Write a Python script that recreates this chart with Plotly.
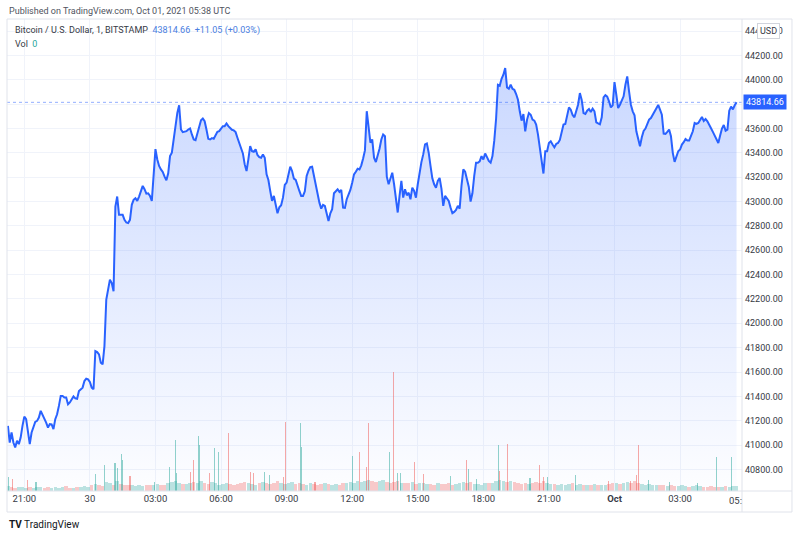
import pandas as pd
import plotly.graph_objects as go

# BTC/USD 1-min chart (Bitstamp), read every 5 minutes from 20:15 Sep 29
start_time = "2021-09-29 20:15"
price = [
    41158, 41021, 41103, 41021, 40981, 41035, 41008, 41062, 41158, 41234,
    41213, 41090, 41008, 41103, 41144, 41191, 41199, 41226, 41281, 41253,
    41226, 41185, 41144, 41172, 41170, 41131, 41213, 41253, 41322, 41404,
    41404, 41390, 41390, 41335, 41350, 41376, 41400, 41384, 41380, 41444,
    41458, 41472, 41526, 41545, 41540, 41518, 41472, 41458, 41772, 41764,
    41745, 41676, 41663, 41813, 42195, 42263, 42359, 42331, 42263, 42959,
    43041, 42891, 42891, 42891, 42850, 42828, 42823, 42850, 42973, 43014,
    43027, 43005, 43041, 43087, 43128, 43101, 43065, 43068, 43046, 43005,
    43182, 43430, 43346, 43292, 43264, 43243, 43204, 43174, 43232, 43373,
    43401, 43510, 43619, 43728, 43790, 43592, 43570, 43575, 43578, 43592,
    43600, 43551, 43510, 43504, 43559, 43605, 43668, 43682, 43660, 43592,
    43515, 43510, 43521, 43515, 43543, 43573, 43578, 43597, 43619, 43619,
    43641, 43619, 43605, 43589, 43584, 43570, 43524, 43477, 43442, 43395,
    43305, 43251, 43346, 43455, 43414, 43409, 43428, 43382, 43365, 43360,
    43387, 43360, 43223, 43177, 43087, 43005, 43046, 42978, 42904, 42953,
    42970, 43032, 43136, 43155, 43237, 43286, 43251, 43188, 43177, 43122,
    43087, 43046, 43046, 43084, 43210, 43253, 43283, 43286, 43210, 43142,
    43073, 42991, 42942, 42972, 42964, 42910, 42841, 42904, 42937, 43068,
    43087, 43101, 43079, 43095, 42950, 42948, 43019, 43051, 43095, 43155,
    43223, 43245, 43270, 43264, 43297, 43354, 43420, 43742, 43580, 43483,
    43510, 43360, 43324, 43373, 43434, 43510, 43551, 43537, 43204, 43142,
    43196, 43237, 43142, 43005, 42910, 43046, 43169, 43032, 43101, 43051,
    43073, 43019, 43114, 43087, 43032, 43142, 43251, 43324, 43387, 43469,
    43477, 43401, 43292, 43191, 43142, 43114, 43169, 43193, 43106, 42964,
    43046, 43030, 43005, 42950, 42904, 42915, 42931, 42964, 42942, 43128,
    43264, 43245, 43177, 43122, 43000, 43068, 43210, 43319, 43319, 43330,
    43373, 43346, 43395, 43365, 43333, 43319, 43373, 43500, 43680, 43959,
    43951, 44008, 44041, 44096, 43937, 43926, 43959, 43926, 43918, 43883,
    43836, 43741, 43664, 43719, 43577, 43673, 43727, 43713, 43673, 43664,
    43632, 43550, 43449, 43345, 43230, 43413, 43413, 43481, 43495, 43468,
    43446, 43473, 43481, 43506, 43563, 43632, 43637, 43700, 43773, 43754,
    43711, 43692, 43746, 43795, 43891, 43834, 43727, 43719, 43746, 43760,
    43735, 43763, 43741, 43651, 43642, 43634, 43692, 43855, 43874, 43861,
    43823, 43773, 43790, 43980, 43877, 43768, 43795, 43823, 43864, 43959,
    44027, 43904, 43795, 43741, 43708, 43577, 43512, 43454, 43528, 43580,
    43599, 43632, 43673, 43686, 43713, 43738, 43763, 43793, 43754, 43713,
    43558, 43555, 43572, 43591, 43536, 43400, 43326, 43378, 43413, 43427,
    43468, 43487, 43514, 43501, 43501, 43539, 43577, 43645, 43637, 43645,
    43673, 43694, 43662, 43678, 43659, 43623, 43602, 43572, 43542, 43512,
    43481, 43542, 43599, 43629, 43582, 43591, 43746, 43779, 43757, 43790,
    43814.66,
]

# background volume per 10-min slot (BTC)
vol_base = [
    1.2, 1.0, 0.8, 1.1, 0.9, 0.7, 1.0, 0.8, 0.9, 1.1,
    0.8, 0.9, 0.7, 1.0, 0.8, 0.9, 1.2, 0.8, 0.7, 0.9,
    1.0, 1.3, 1.1, 1.4, 1.8, 1.5, 1.3, 2.2, 1.9, 1.6,
    2.4, 1.8, 1.5, 1.4, 1.6, 1.3, 1.5, 1.2, 1.4, 1.6,
    1.5, 1.8, 1.4, 1.6, 1.9, 2.2, 2.5, 2.0, 1.7, 1.8,
    2.1, 2.3, 1.9, 2.4, 2.0, 1.8, 2.2, 1.9, 1.6, 1.8,
    2.0, 1.7, 1.5, 1.8, 2.0, 2.3, 2.1, 1.8, 1.6, 1.9,
    2.2, 2.0, 1.8, 2.1, 2.4, 2.0, 1.7, 1.9, 2.3, 1.8,
    2.0, 1.8, 1.6, 1.9, 1.7, 1.5, 1.8, 2.0, 1.7, 1.6,
    1.8, 1.6, 1.9, 2.1, 2.3, 2.0, 2.4, 2.2, 2.6, 2.8,
    2.5, 2.2, 2.4, 2.7, 2.3, 2.0, 2.2, 2.5, 1.9, 2.1,
    2.0, 2.3, 1.8, 1.9, 2.1, 1.7, 1.8, 1.6, 2.0, 1.7,
    1.8, 1.9, 1.6, 1.7, 1.9, 2.2, 2.0, 2.3, 1.8, 1.7,
    1.6, 1.9, 2.1, 2.0, 2.4, 2.8, 2.5, 2.2, 2.6, 2.3,
    2.0, 1.8, 1.9, 1.7, 2.0, 2.2, 2.1, 2.4, 2.0, 1.8,
    1.7, 1.6, 1.8, 1.5, 1.7, 1.9, 1.6, 1.8, 1.5, 1.6,
    1.5, 1.7, 1.6, 1.4, 1.6, 1.8, 2.0, 1.9, 1.7, 2.1,
    2.2, 2.0, 2.4, 1.9, 1.8, 1.6, 1.7, 1.5, 1.6, 1.4,
    1.5, 1.3, 1.4, 1.2, 1.3, 1.5, 1.2, 1.1, 1.3, 1.4,
    1.2, 1.0, 1.1, 1.3, 1.0, 0.9, 1.1, 1.2, 1.0, 1.3, 1.2,
]

# single-minute volume spikes
spike_times = [
    "2021-09-29 20:16", "2021-09-29 20:27", "2021-09-29 21:09", "2021-09-29 21:32",
    "2021-09-30 00:16", "2021-09-30 00:40", "2021-09-30 01:09", "2021-09-30 01:15",
    "2021-09-30 01:27", "2021-09-30 01:30", "2021-09-30 01:50", "2021-09-30 02:57",
    "2021-09-30 03:38", "2021-09-30 03:54", "2021-09-30 03:58", "2021-09-30 04:37",
    "2021-09-30 04:44", "2021-09-30 04:59", "2021-09-30 05:02", "2021-09-30 05:28",
    "2021-09-30 05:43", "2021-09-30 05:53", "2021-09-30 06:20", "2021-09-30 07:21",
    "2021-09-30 07:29", "2021-09-30 07:59", "2021-09-30 08:14", "2021-09-30 08:51",
    "2021-09-30 08:56", "2021-09-30 09:37", "2021-09-30 09:41", "2021-09-30 10:18",
    "2021-09-30 12:00", "2021-09-30 12:19", "2021-09-30 12:40", "2021-09-30 12:44",
    "2021-09-30 13:42", "2021-09-30 13:53", "2021-09-30 14:04", "2021-09-30 14:13",
    "2021-09-30 14:50", "2021-09-30 15:15", "2021-09-30 16:29", "2021-09-30 17:14",
    "2021-09-30 17:19", "2021-09-30 17:40", "2021-09-30 18:41", "2021-09-30 18:44",
    "2021-09-30 19:07", "2021-09-30 20:08", "2021-09-30 20:34", "2021-09-30 20:45",
    "2021-09-30 20:56", "2021-09-30 22:12", "2021-09-30 23:43", "2021-10-01 00:43",
    "2021-10-01 01:01", "2021-10-01 01:07", "2021-10-01 01:33", "2021-10-01 02:32",
    "2021-10-01 03:47", "2021-10-01 04:40", "2021-10-01 05:21",
]
spike_vols = [
    3.6, 2.9, 2.8, 2.3, 4.2, 6.5, 6.9, 5.7, 9.2, 7.8, 3.8, 2.3,
    6.1, 12.8, 4.4, 4.8, 7.8, 13.8, 11.5, 4.4, 10.7, 9.8, 14.4, 4.8,
    4.4, 4.8, 4.0, 3.6, 17.3, 16.9, 11.1, 2.3, 8.8, 9.8, 6.1, 17.0,
    9.8, 29.8, 4.6, 4.6, 7.3, 4.2, 3.8, 7.8, 5.4, 2.9, 11.5, 5.0,
    11.7, 3.3, 6.5, 3.6, 3.4, 4.0, 2.6, 2.5, 4.0, 11.5, 2.8, 2.3,
    1.9, 8.5, 8.5,
]
spike_up = [
    1, 0, 0, 1, 1, 1, 1, 1, 1, 1, 0, 1,
    1, 1, 1, 0, 0, 1, 1, 0, 1, 1, 0, 0,
    0, 1, 1, 0, 0, 1, 1, 0, 1, 0, 0, 0,
    1, 0, 1, 1, 0, 0, 1, 0, 1, 1, 1, 0,
    0, 1, 0, 0, 1, 1, 0, 0, 0, 0, 1, 1,
    1, 1, 1,
]

x_ticks = ["2021-09-29 21:00", "2021-09-30 00:00", "2021-09-30 03:00", "2021-09-30 06:00",
           "2021-09-30 09:00", "2021-09-30 12:00", "2021-09-30 15:00", "2021-09-30 18:00",
           "2021-09-30 21:00", "2021-10-01 00:00", "2021-10-01 03:00"]
x_labels = ["21:00", "30", "03:00", "06:00", "09:00", "12:00", "15:00", "18:00",
            "21:00", "<b>Oct</b>", "03:00"]
y_ticks = [40800, 41000, 41200, 41400, 41600, 41800, 42000, 42200, 42400,
           42600, 42800, 43000, 43200, 43400, 43600, 43800, 44000, 44200, 44400]

times = pd.date_range(start_time, periods=len(price), freq="5min")
vol_times = pd.date_range(start_time, periods=len(vol_base), freq="10min")
last = price[-1]

UP = "rgba(38,166,154,{})"
DOWN = "rgba(239,83,80,{})"
BLUE = "#2962ff"
GRID = "#f0f3fa"
BORDER = "#e0e3eb"
TXT = "#363a45"
FONT = "Roboto"

base_colors = []
for i in range(len(vol_base)):
    up = i == 0 or price[2 * i] >= price[2 * i - 2]
    base_colors.append((UP if up else DOWN).format(0.3))
spike_colors = [(UP if u else DOWN).format(0.5) for u in spike_up]

fig = go.Figure()

fig.add_trace(go.Scatter(
    x=times, y=price, mode="lines",
    line=dict(color=BLUE, width=2),
    fill="tozeroy",
    fillgradient=dict(type="vertical", start=40623, stop=44100,
                      colorscale=[[0, "rgba(41,98,255,0.01)"], [1, "rgba(41,98,255,0.25)"]]),
    hoverinfo="skip", showlegend=False,
))

fig.add_trace(go.Bar(
    x=vol_times, y=vol_base, yaxis="y2",
    marker=dict(color=base_colors, line=dict(width=0)),
    width=9.5 * 60 * 1000, showlegend=False, hoverinfo="skip",
))
fig.add_trace(go.Bar(
    x=pd.to_datetime(spike_times), y=spike_vols, yaxis="y2",
    marker=dict(color=spike_colors, line=dict(width=0)),
    width=3 * 60 * 1000, showlegend=False, hoverinfo="skip",
))

fig.update_layout(
    width=800, height=538,
    margin=dict(l=7, r=58, t=19, b=47, autoexpand=False),
    paper_bgcolor="white", plot_bgcolor="white",
    barmode="overlay", bargap=0,
    font=dict(family=FONT, size=9, color=TXT),
    xaxis=dict(
        range=["2021-09-29 20:12:30", "2021-10-01 05:50:00"],
        tickvals=x_ticks, ticktext=x_labels, ticks="",
        showgrid=True, gridcolor=GRID, gridwidth=1,
        zeroline=False, showline=False, automargin=False,
        tickfont=dict(size=9.5, color=TXT),
    ),
    yaxis=dict(
        range=[40623, 44499], side="right",
        tickvals=y_ticks, tickformat=".2f", ticks="",
        ticklabelstandoff=2,
        showgrid=True, gridcolor=GRID, gridwidth=1,
        zeroline=False, showline=False, automargin=False,
        tickfont=dict(size=9, color=TXT),
    ),
    yaxis2=dict(
        overlaying="y", side="right", range=[0, 118], visible=False,
        showgrid=False, automargin=False,
    ),
)

# last price dotted line
fig.add_shape(type="line", xref="paper", x0=0, x1=1, yref="y", y0=last, y1=last,
              line=dict(color=BLUE, width=1, dash="dot"), opacity=0.5)

# chart frame, price scale and time scale separators
fig.add_shape(type="rect", xref="paper", yref="paper", x0=0, y0=-0.0445, x1=1.068, y1=1,
              line=dict(color=BORDER, width=1), layer="above")
fig.add_shape(type="line", xref="paper", yref="paper", x0=1, y0=-0.0445, x1=1, y1=1,
              line=dict(color=BORDER, width=1), layer="above")
fig.add_shape(type="line", xref="paper", yref="paper", x0=0, y0=0, x1=1.068, y1=0,
              line=dict(color=BORDER, width=1), layer="above")

fig.add_annotation(xref="paper", yref="paper", x=0, y=1.017, xanchor="left", yanchor="middle",
                   showarrow=False,
                   text="Published on TradingView.com, Oct 01, 2021 05:38 UTC",
                   font=dict(size=9, color="#50535e"))
fig.add_annotation(xref="paper", yref="paper", x=0.0082, y=0.9746, xanchor="left", yanchor="middle",
                   showarrow=False,
                   text="Bitcoin / U.S. Dollar, 1, BITSTAMP  "
                        "<span style='color:#4a7de0'>43814.66  +11.05 (+0.03%)</span>",
                   font=dict(size=9, color=TXT))
fig.add_annotation(xref="paper", yref="paper", x=0.0082, y=0.947, xanchor="left", yanchor="middle",
                   showarrow=False,
                   text="Vol  <span style='color:#26a69a'>0</span>",
                   font=dict(size=9, color=TXT))

# currency badge on the price scale
fig.add_annotation(xref="paper", yref="paper", x=1.0367, y=0.9746, xanchor="center", yanchor="middle",
                   showarrow=False, text="USD", bgcolor="white", bordercolor="#d1d4dc",
                   borderwidth=1, borderpad=2, font=dict(size=9, color=TXT))

# last price label
fig.add_annotation(xref="paper", yref="y", x=1, y=last, xanchor="left", yanchor="middle",
                   xshift=1, showarrow=False, text="%.2f" % last, bgcolor=BLUE,
                   borderpad=2, font=dict(size=9, color="white"))

# partially hidden time label at the right edge
fig.add_annotation(xref="x", yref="paper", x="2021-10-01 05:31", y=-0.0195,
                   xanchor="center", yanchor="middle", showarrow=False,
                   text="05:", font=dict(size=9.5, color=TXT))

fig.add_annotation(xref="paper", yref="paper", x=0, y=-0.072, xanchor="left", yanchor="middle",
                   showarrow=False,
                   text="<b>TV</b> TradingView", font=dict(size=10, color="#131722"))

# page without the default body margin so the figure sits at the window corner
fig.write_html("out.html", config={"displayModeBar": False},
               post_script="document.body.style.margin='0px';")
